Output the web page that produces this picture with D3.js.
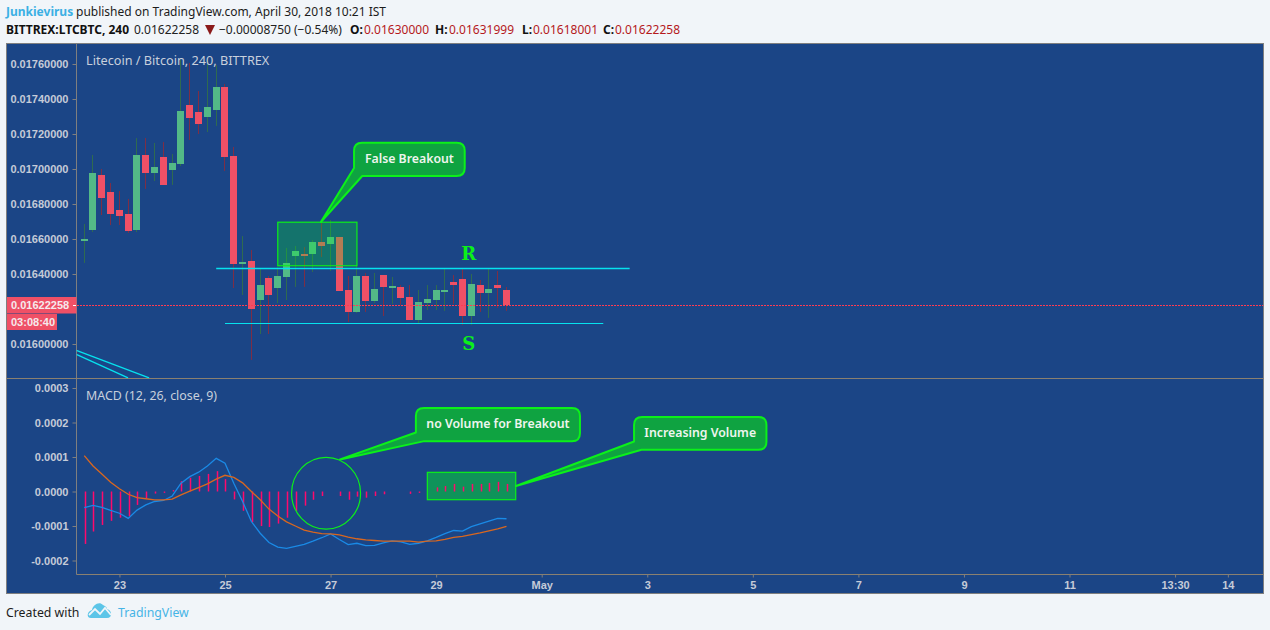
<!DOCTYPE html>
<html>
<head>
<meta charset="utf-8">
<script src="https://cdnjs.cloudflare.com/ajax/libs/d3/7.8.5/d3.min.js"></script>
<style>
  html, body { margin: 0; padding: 0; background: #f1f5f9; overflow: hidden; }
  svg { display: block; }
  .ui { font-family: "Noto Sans", sans-serif; font-size: 12px; }
  .axis text { font-family: "Liberation Sans", sans-serif; font-size: 11px; font-weight: bold; fill: #c5cbd8; }
  .axis path { display: none; }
  .axis line { stroke: #7f7f7f; }
</style>
</head>
<body>
<div id="chart"></div>
<script>
// candles, 4h bars, first bar is index 0
const opens = [0.016589,0.016651,0.016966,0.016869,0.016766,0.016743,0.016651,0.01708,0.016977,0.017069,0.016994,0.017029,0.017366,0.017326,0.017297,0.017337,0.017469,0.017074,0.016457,0.016474,0.016251,0.016377,0.01632,0.016383,0.016503,0.016514,0.016514,0.016583,0.016571,0.016611,0.016309,0.016183,0.016389,0.016246,0.016394,0.016326,0.016326,0.016269,0.016137,0.016234,0.016251,0.016303,0.016354,0.016371,0.01616,0.016337,0.016291,0.016337,0.016309];
const highs = [0.016686,0.01708,0.017,0.01692,0.016874,0.016829,0.017177,0.017177,0.017149,0.017154,0.017086,0.017623,0.017606,0.017446,0.017623,0.017594,0.017486,0.017126,0.016617,0.016537,0.016434,0.016389,0.01644,0.016549,0.01656,0.016554,0.016594,0.016709,0.016709,0.016611,0.016389,0.016451,0.016406,0.016406,0.016394,0.016383,0.016337,0.016337,0.016309,0.016337,0.016337,0.016434,0.016394,0.016434,0.0164,0.016366,0.016434,0.016417,0.016326];
const lows = [0.016463,0.01664,0.016737,0.01668,0.01668,0.016634,0.01664,0.016886,0.016931,0.016909,0.016909,0.017017,0.017166,0.0172,0.017211,0.017246,0.016989,0.01632,0.01628,0.015909,0.016057,0.016057,0.016234,0.016251,0.016326,0.016326,0.016411,0.016497,0.016417,0.016303,0.016126,0.016177,0.016183,0.016234,0.01616,0.016229,0.016223,0.016137,0.01612,0.016194,0.016194,0.016189,0.016229,0.016109,0.016109,0.016183,0.016149,0.016206,0.016189];
const closes = [0.0166,0.016977,0.016834,0.016743,0.016731,0.016646,0.01708,0.016977,0.017011,0.016909,0.017034,0.017331,0.017291,0.017257,0.017354,0.017469,0.017069,0.016457,0.016469,0.0162,0.016337,0.01628,0.016389,0.016463,0.016531,0.016503,0.016583,0.01656,0.016611,0.016303,0.016183,0.016389,0.016246,0.016314,0.016326,0.016331,0.016263,0.016137,0.01624,0.016257,0.016309,0.016309,0.016337,0.01616,0.016343,0.016291,0.016314,0.01632,0.01622258];

// MACD panel
const macdLine = [-0.000047,-0.00004,-0.000046,-0.000055,-0.000063,-0.000078,-0.000054,-0.000039,-0.000029,-0.000026,-0.000013,0.000024,0.000043,0.000056,0.000074,0.000096,0.000082,0.000024,-0.000029,-0.000087,-0.000121,-0.000148,-0.000161,-0.000165,-0.000159,-0.000153,-0.000144,-0.000134,-0.000123,-0.000139,-0.000154,-0.00015,-0.000157,-0.000156,-0.000149,-0.000143,-0.000146,-0.000153,-0.00015,-0.000143,-0.000133,-0.000122,-0.000113,-0.000115,-0.000102,-0.000094,-0.000086,-0.000078,-0.000079];
const signalLine = [0.000104,0.000074,0.000051,0.000027,0.000008,-0.000008,-0.000018,-0.000021,-0.000024,-0.000024,-0.000022,-0.00001,0.000001,0.000011,0.000022,0.000036,0.000047,0.000041,0.000025,0,-0.000024,-0.000051,-0.000071,-0.000088,-0.0001,-0.000112,-0.000118,-0.000122,-0.000123,-0.000126,-0.000132,-0.000137,-0.00014,-0.000142,-0.000144,-0.000144,-0.000144,-0.000144,-0.000147,-0.000144,-0.000143,-0.000139,-0.000133,-0.00013,-0.000125,-0.00012,-0.000114,-0.000108,-0.000101];
const histogram = [-0.000152,-0.000116,-0.000097,-0.000085,-0.000076,-0.000072,-0.000039,-0.000019,-0.000006,-0.000004,0.000004,0.00003,0.00004,0.000045,0.000051,0.000059,0.000036,-0.000023,-0.000056,-0.000089,-0.0001,-0.000103,-0.000093,-0.000076,-0.000056,-0.000041,-0.000024,-0.000013,0,-0.000013,-0.000024,-0.000015,-0.000018,-0.000013,-0.000008,0,0,-0.000007,-0.000004,0,0.000012,0.000016,0.000022,0.000014,0.000022,0.000022,0.000025,0.000028,0.000022];

// axis ticks
const priceTicks = [0.016, 0.0164, 0.0166, 0.0168, 0.017, 0.0172, 0.0174, 0.0176];
const macdTicks = [0.0003, 0.0002, 0.0001, 0, -0.0001, -0.0002];
const timeTicks = [4, 16, 28, 40, 52, 64, 76, 88, 100, 112, 124, 130];
const timeLabels = ["23", "25", "27", "29", "May", "3", "5", "7", "9", "11", "13:30", "14"];
const lastPrice = 0.01622258;

// drawings, x in bars, y in price or macd units
const levelLines = [[15, 62, 0.016432, 0.016432], [16, 59, 0.016119, 0.016119]];
const trendLines = [[-0.9, 7.37, 0.015964, 0.015806], [-0.9, 4.98, 0.015941, 0.015806]];
const breakoutBox = [22, 31, 0.016696, 0.016447];
const volumeBox = [39, 49.05, 0.0000556, -0.0000238];
const volumeCircle = [27.49, -0.000005, 3.92, 0.000104];
const levelLetters = [["R", 43.7, 0.016514], ["S", 43.7, 0.016]];

const width = 1270, height = 630;
const pane = { left: 76.5, right: 1263.5, top: 43.5, split: 378.5, axis: 574.5, bottom: 593.5 };

const bg = "#1b4586", upColor = "#53b987", downColor = "#ef5066";
const upWick = "#2f6b50", downWick = "#7d2e46";
const green = "#0cf01a", calloutFill = "#0fa341";

const svg = d3.select("#chart").append("svg").attr("width", width).attr("height", height);

const x = d3.scaleLinear().domain([16, 48]).range([225, 506.5]);
const y = d3.scaleLinear().domain([0.016, 0.0176]).range([344, 64]);
const yMacd = d3.scaleLinear().domain([0, 0.0002]).range([491.5, 422.5]);
const barPx = (i) => Math.round(x(i) + 0.4);

// frame
svg.append("rect").attr("x", 6.5).attr("y", pane.top)
  .attr("width", pane.right - 6.5).attr("height", pane.bottom - pane.top)
  .attr("fill", bg).attr("stroke", "#7f7f7f");

svg.append("clipPath").attr("id", "priceClip").append("rect")
  .attr("x", pane.left).attr("y", pane.top)
  .attr("width", pane.right - pane.left).attr("height", pane.split - pane.top);

const frameLine = (x1, y1, x2, y2) =>
  svg.append("line").attr("x1", x1).attr("y1", y1).attr("x2", x2).attr("y2", y2).attr("stroke", "#7f7f7f");
frameLine(pane.left, pane.top, pane.left, pane.axis);
frameLine(6.5, pane.split, pane.right, pane.split).attr("stroke", "#8a8070");
frameLine(pane.left, pane.axis, pane.right, pane.axis).attr("stroke", "#8a8070");

// axes
svg.append("g").attr("class", "axis").attr("transform", `translate(${pane.left},0)`)
  .call(d3.axisLeft(y).tickValues(priceTicks).tickSize(4).tickPadding(4).tickFormat(d3.format(".8f")));
svg.append("g").attr("class", "axis").attr("transform", `translate(${pane.left},0)`)
  .call(d3.axisLeft(yMacd).tickValues(macdTicks).tickSize(4).tickPadding(4).tickFormat((d) => d3.format(".4f")(d).replace("−", "-")));
svg.append("g").attr("class", "axis").attr("transform", `translate(0,${pane.axis})`)
  .call(d3.axisBottom(x).tickValues(timeTicks).tickSize(3).tickPadding(4).tickFormat((d, i) => timeLabels[i]));

const priceG = svg.append("g").attr("clip-path", "url(#priceClip)");

// candles
const candles = priceG.selectAll("g.candle").data(opens).join("g").attr("class", "candle");
const isUp = (i) => closes[i] >= opens[i];
candles.append("line")
  .attr("x1", (d, i) => barPx(i) - 0.5).attr("x2", (d, i) => barPx(i) - 0.5)
  .attr("y1", (d, i) => y(highs[i])).attr("y2", (d, i) => y(lows[i]))
  .attr("stroke", (d, i) => (isUp(i) ? upWick : downWick));
candles.append("rect")
  .attr("x", (d, i) => barPx(i) - 4)
  .attr("width", 7)
  .attr("y", (d, i) => Math.round(y(Math.max(opens[i], closes[i]))))
  .attr("height", (d, i) => Math.max(2, Math.round(Math.abs(y(opens[i]) - y(closes[i])))))
  .attr("fill", (d, i) => (isUp(i) ? upColor : downColor));

// last price line, on top of the candles
priceG.append("line")
  .attr("x1", pane.left + 0.5).attr("x2", pane.right)
  .attr("y1", Math.floor(y(lastPrice)) + 0.5).attr("y2", Math.floor(y(lastPrice)) + 0.5)
  .attr("stroke", "#ff3b52").attr("stroke-dasharray", "2 1");

// support / resistance and trend lines
priceG.selectAll("line.level").data(levelLines.concat(trendLines)).join("line").attr("class", "level")
  .attr("x1", (d) => x(d[0])).attr("x2", (d) => x(d[1]))
  .attr("y1", (d) => (d[2] === d[3] ? Math.floor(y(d[2])) + 0.5 : y(d[2])))
  .attr("y2", (d) => (d[2] === d[3] ? Math.floor(y(d[3])) + 0.5 : y(d[3])))
  .attr("stroke", "#06e2ee").attr("stroke-width", (d, i) => (i === 1 ? 1 : 1.3));

svg.selectAll("text.level").data(levelLetters).join("text").attr("class", "level")
  .attr("x", (d) => x(d[1])).attr("y", (d) => y(d[2]) + 6)
  .attr("text-anchor", "middle")
  .attr("fill", green)
  .style("font-family", "'DejaVu Serif', serif").style("font-weight", "bold").style("font-size", "18px")
  .text((d) => d[0]);

// highlight boxes
const drawBox = (b, scale, alpha) =>
  svg.append("rect")
    .attr("x", x(b[0])).attr("width", x(b[1]) - x(b[0]))
    .attr("y", scale(b[2])).attr("height", scale(b[3]) - scale(b[2]))
    .attr("fill", "#00ff1e").attr("fill-opacity", alpha)
    .attr("stroke", green).attr("stroke-width", 1.2);
drawBox(breakoutBox, y, 0.25);
drawBox(volumeBox, yMacd, 0.42);

// MACD
const macdG = svg.append("g");
macdG.selectAll("line.hist").data(histogram).join("line").attr("class", "hist")
  .attr("x1", (d, i) => barPx(i) + 0.5).attr("x2", (d, i) => barPx(i) + 0.5)
  .attr("y1", yMacd(0)).attr("y2", (d) => yMacd(d))
  .attr("stroke", "#ff0a6c").attr("stroke-width", 1.5);

const macdPath = d3.line().x((d, i) => x(i)).y((d) => yMacd(d));
macdG.append("path").attr("d", macdPath(macdLine)).attr("fill", "none").attr("stroke", "#1a8ae6").attr("stroke-width", 1.3);
macdG.append("path").attr("d", macdPath(signalLine)).attr("fill", "none").attr("stroke", "#d9671f").attr("stroke-width", 1.3);

svg.append("ellipse")
  .attr("cx", x(volumeCircle[0])).attr("cy", yMacd(volumeCircle[1]))
  .attr("rx", x(volumeCircle[2]) - x(0)).attr("ry", yMacd(0) - yMacd(volumeCircle[3]))
  .attr("fill", "none").attr("stroke", green).attr("stroke-width", 1.2);

// callouts: text, left, right, top, bottom, tail tip x/y, tail base on the left edge and on the bottom edge
function callout(text, scale, c) {
  const l = x(c.left), r = x(c.right), t = scale(c.top), b = scale(c.bottom), rad = 8;
  const d = [
    `M${l + rad},${t}`, `H${r - rad}`, `Q${r},${t} ${r},${t + rad}`,
    `V${b - rad}`, `Q${r},${b} ${r - rad},${b}`,
    `H${x(c.baseX)}`, `L${x(c.tipX)},${scale(c.tipY)}`, `L${l},${scale(c.baseY)}`,
    `V${t + rad}`, `Q${l},${t} ${l + rad},${t}`, "Z"
  ].join(" ");
  svg.append("path").attr("d", d).attr("fill", calloutFill).attr("stroke", green).attr("stroke-width", 2).attr("stroke-linejoin", "round");
  svg.append("text").attr("class", "ui")
    .attr("x", (l + r) / 2).attr("y", (t + b) / 2 + 3.5)
    .attr("text-anchor", "middle").attr("fill", "#eef5ee")
    .style("font-weight", 600).style("font-size", "12.3px")
    .text(text);
}
callout("False Breakout", y, { left: 30.67, right: 43.25, top: 0.017150, bottom: 0.016960, baseX: 31.6, baseY: 0.017006, tipX: 26.9, tipY: 0.016697 });
callout("no Volume for Breakout", yMacd, { left: 37.7, right: 56.35, top: 0.000242, bottom: 0.000146, baseX: 38.65, baseY: 0.000171, tipX: 29.08, tipY: 0.000093 });
callout("Increasing Volume", yMacd, { left: 62.5, right: 77.55, top: 0.000216, bottom: 0.000121, baseX: 63.35, baseY: 0.000145, tipX: 49.08, tipY: 0.000016 });

// titles inside panes
svg.append("text").attr("class", "ui").attr("x", 86).attr("y", 65).attr("fill", "#c8d0dc").style("font-size", "12.7px").text("Litecoin / Bitcoin, 240, BITTREX");
svg.append("text").attr("class", "ui").attr("x", 86).attr("y", 400).attr("fill", "#c8d0dc").style("font-size", "12.4px").text("MACD (12, 26, close, 9)");

// last price and countdown labels
svg.append("rect").attr("x", 7).attr("y", 297).attr("width", 69.5).attr("height", 16.5).attr("fill", downColor);
svg.append("rect").attr("x", 7).attr("y", 314).attr("width", 50).attr("height", 16).attr("fill", downColor);
svg.append("line").attr("x1", 73).attr("x2", 76).attr("y1", Math.floor(y(lastPrice)) + 0.5).attr("y2", Math.floor(y(lastPrice)) + 0.5).attr("stroke", "#fff");
const tag = (txt, tx, ty) => svg.append("text").attr("x", tx).attr("y", ty).attr("fill", "#f6e9ec")
  .style("font-family", "'Liberation Sans', sans-serif").style("font-size", "11px").style("font-weight", "bold").text(txt);
tag(d3.format(".8f")(lastPrice), 11, 309);
tag("03:08:40", 11, 326);

// header
const header = svg.append("g").attr("class", "ui");
const headText = (txt, tx, ty, fill, bold) =>
  header.append("text").attr("x", tx).attr("y", ty).attr("fill", fill).style("font-weight", bold ? "bold" : "normal").text(txt);
headText("Junkievirus", 6, 16, "#3bb0e4", true);
headText("published on TradingView.com, April 30, 2018 10:21 IST", 76, 16, "#1c1c1c");
headText("BITTREX:LTCBTC, 240", 6, 34, "#111", true);
headText("0.01622258", 134, 34, "#222");
header.append("path").attr("d", "M205,25 H215 L210,35 Z").attr("fill", "#8b1a1a");
headText("−0.00008750 (−0.54%)", 219, 34, "#222");
[["O:", 350, "0.01630000", 364], ["H:", 435, "0.01631999", 449], ["L:", 522, "0.01618001", 533], ["C:", 603, "0.01622258", 615]]
  .forEach((o) => {
    headText(o[0], o[1], 34, "#111", true);
    headText(o[2], o[3], 34, "#b5191c");
  });

// footer
const footer = svg.append("g").attr("class", "ui").style("font-size", "12.3px");
footer.append("text").attr("x", 6).attr("y", 617).attr("fill", "#1c1c1c").text("Created with");
footer.append("path")
  .attr("d", "M91,618 C86,618 87,611 92,610 C93,605 99,601 103,605 C106,606 107,608 107,609 C112,610 113,618 107,618 Z")
  .attr("fill", "#5cc5e8");
footer.append("path")
  .attr("d", "M89,615 L95,609 L100,614 L105,608 L111,615")
  .attr("fill", "none").attr("stroke", "#f1f5f9").attr("stroke-width", 1.8);
footer.append("text").attr("x", 118).attr("y", 617).attr("fill", "#46b4e6").text("TradingView");
</script>
</body>
</html>
